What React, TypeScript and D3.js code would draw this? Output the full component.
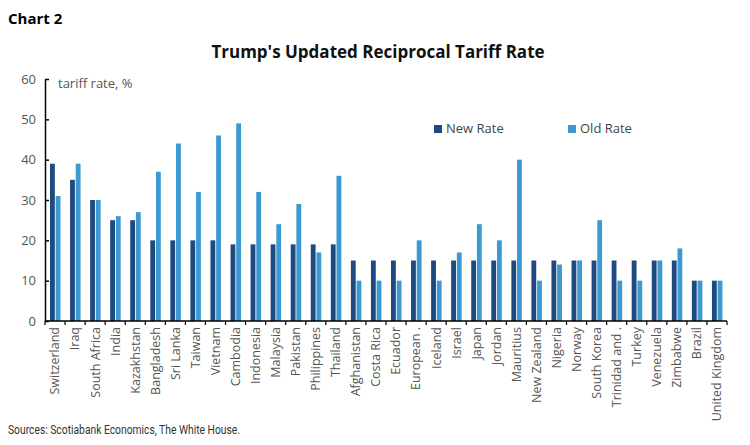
import React, { useEffect, useRef } from "react";
import * as d3 from "d3";

const countries = [
  "Switzerland", "Iraq", "South Africa", "India", "Kazakhstan", "Bangladesh",
  "Sri Lanka", "Taiwan", "Vietnam", "Cambodia", "Indonesia", "Malaysia",
  "Pakistan", "Philippines", "Thailand", "Afghanistan", "Costa Rica", "Ecuador",
  "European .", "Iceland", "Israel", "Japan", "Jordan", "Mauritius",
  "New Zealand", "Nigeria", "Norway", "South Korea", "Trinidad and .", "Turkey",
  "Venezuela", "Zimbabwe", "Brazil", "United Kingdom",
];
const newRate = [
  39, 35, 30, 25, 25, 20, 20, 20, 20, 19, 19, 19, 19, 19, 19, 15, 15, 15,
  15, 15, 15, 15, 15, 15, 15, 15, 15, 15, 15, 15, 15, 15, 10, 10,
];
const oldRate = [
  31, 39, 30, 26, 27, 37, 44, 32, 46, 49, 32, 24, 29, 17, 36, 10, 10, 10,
  20, 10, 17, 24, 20, 40, 10, 14, 15, 25, 10, 10, 15, 18, 10, 10,
];
const yTicks = [0, 10, 20, 30, 40, 50, 60];
const seriesNames = ["New Rate", "Old Rate"];

const colors = ["#1f4a80", "#3b9ad2"];
const font = "'Open Sans', sans-serif";

export default function App() {
  const ref = useRef<SVGSVGElement>(null);

  useEffect(() => {
    const svg = d3.select(ref.current);
    svg.selectAll("*").remove();

    const left = 45;
    const right = 727;
    const top = 79;
    const bottom = 321;

    const x = d3.scaleBand().domain(countries).range([left, right]);
    const inner = d3
      .scaleBand()
      .domain(seriesNames)
      .range([5, 15.5])
      .paddingInner(0.15);
    const y = d3.scaleLinear().domain([0, 60]).range([bottom, top]);

    svg
      .append("text")
      .attr("x", 8)
      .attr("y", 24)
      .attr("font-family", font)
      .attr("font-weight", "bold")
      .attr("font-size", 15)
      .text("Chart 2");

    svg
      .append("text")
      .attr("x", 378)
      .attr("y", 58)
      .attr("text-anchor", "middle")
      .attr("font-family", font)
      .attr("font-weight", "bold")
      .attr("font-size", 17)
      .attr("fill", "#111")
      .text("Trump's Updated Reciprocal Tariff Rate");

    // bars
    const series = [newRate, oldRate];
    series.forEach((vals, si) => {
      svg
        .append("g")
        .selectAll("rect")
        .data(countries)
        .join("rect")
        .attr("x", (d) => (x(d) as number) + (inner(seriesNames[si]) as number))
        .attr("width", inner.bandwidth())
        .attr("y", (d, i) => y(vals[i]))
        .attr("height", (d, i) => bottom - y(vals[i]))
        .attr("fill", colors[si]);
    });

    // y axis
    const yAxis = svg
      .append("g")
      .attr("transform", `translate(${left},0)`)
      .call(
        d3
          .axisLeft(y)
          .tickValues(yTicks)
          .tickSizeInner(-4)
          .tickSizeOuter(0)
          .tickPadding(9)
      );
    yAxis.select(".domain").attr("stroke", "#000").attr("stroke-width", 1.5);
    yAxis.selectAll(".tick line").attr("stroke", "#000").attr("stroke-width", 1.5);
    yAxis
      .selectAll(".tick text")
      .attr("font-family", font)
      .attr("font-size", 13)
      .attr("fill", "#555");

    // x axis
    svg
      .append("line")
      .attr("x1", left)
      .attr("x2", right)
      .attr("y1", bottom)
      .attr("y2", bottom)
      .attr("stroke", "#000")
      .attr("stroke-width", 1.5);
    const bounds = countries.map((c) => x(c) as number).concat([right]);
    svg
      .append("g")
      .selectAll("line")
      .data(bounds)
      .join("line")
      .attr("x1", (d) => d)
      .attr("x2", (d) => d)
      .attr("y1", bottom)
      .attr("y2", bottom + 4)
      .attr("stroke", "#000")
      .attr("stroke-width", 1.2);
    svg
      .append("g")
      .selectAll("text")
      .data(countries)
      .join("text")
      .attr(
        "transform",
        (d) => `translate(${(x(d) as number) + x.bandwidth() / 2},327) rotate(-90)`
      )
      .attr("dy", "0.35em")
      .attr("text-anchor", "end")
      .attr("font-family", font)
      .attr("font-size", 12.5)
      .attr("fill", "#555")
      .text((d) => d);

    svg
      .append("text")
      .attr("x", 58)
      .attr("y", 88)
      .attr("font-family", font)
      .attr("font-size", 13)
      .attr("fill", "#555")
      .text("tariff rate, %");

    // legend
    const legendX = [434, 568];
    seriesNames.forEach((s, i) => {
      svg
        .append("rect")
        .attr("x", legendX[i])
        .attr("y", 125)
        .attr("width", 8)
        .attr("height", 8)
        .attr("fill", colors[i]);
      svg
        .append("text")
        .attr("x", legendX[i] + 12)
        .attr("y", 133)
        .attr("font-family", font)
        .attr("font-size", 13)
        .attr("fill", "#444")
        .attr("font-size", 13)
        .text(s);
    });

    svg
      .append("text")
      .attr("x", 8)
      .attr("y", 434)
      .attr("font-family", "Roboto, sans-serif")
      .attr("font-size", 12)
      .attr("fill", "#333")
      .attr("textLength", 232)
      .attr("lengthAdjust", "spacingAndGlyphs")
      .text("Sources: Scotiabank Economics, The White House.");
  }, []);

  return (
    <div style={{ position: "absolute", left: 0, top: 0 }}>
      <svg ref={ref} width={750} height={445} style={{ display: "block", background: "#fff" }} />
    </div>
  );
}
